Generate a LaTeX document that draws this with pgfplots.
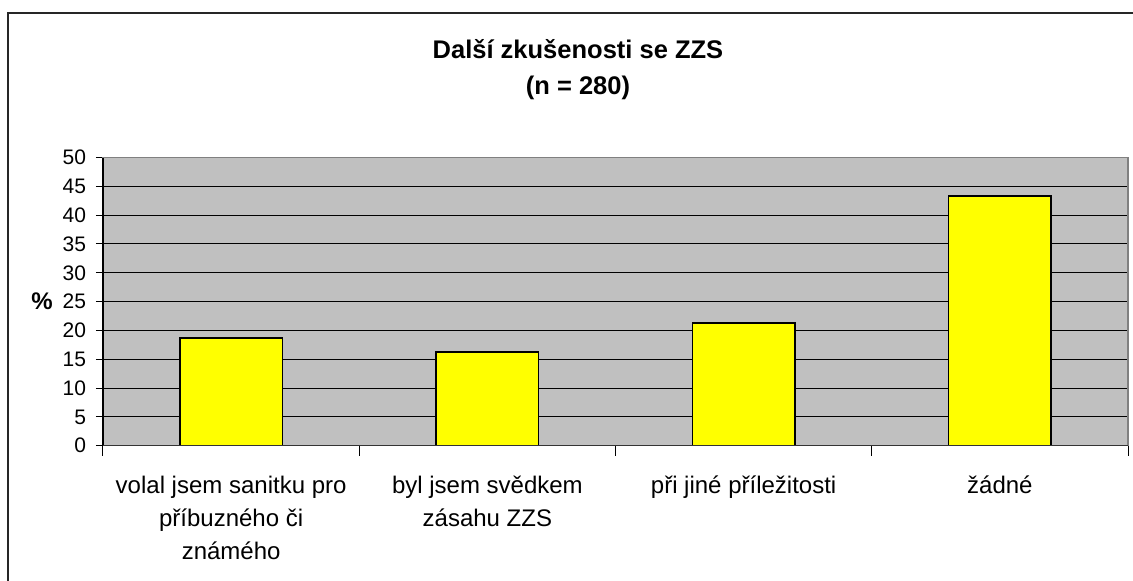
\documentclass[border=0pt]{standalone}
\usepackage{pgfplots}
\pgfplotsset{compat=1.18}
\usepackage{fontspec}
\setmainfont{Liberation Sans}
\definecolor{plotgray}{HTML}{C0C0C0}
\definecolor{baryellow}{HTML}{FFFF00}
\begin{document}
\begin{tikzpicture}
\path[use as bounding box] (0,0) rectangle (566.5pt,-290.5pt);
\draw[line width=0.8pt, color=black!85] (4pt,-300pt) -- (4pt,-6.5pt) -- (580pt,-6.5pt);
\begin{axis}[
  at={(51.5pt,-222.85pt)}, anchor=south west,
  scale only axis, width=512.5pt, height=144.1pt,
  xmin=-0.5, xmax=3.5, ymin=0, ymax=50,
  axis background/.style={fill=plotgray},
  axis line style={draw=black!50, line width=0.6pt},
  ybar, bar width=0.4,
  ytick={0,5,...,50},
  ytick pos=left, xtick pos=bottom,
  ymajorgrids, grid style={black, line width=0.5pt},
  tick align=outside,
  y tick label style={font=\fontsize{10.5}{12}\selectfont, xshift=-1.5pt},
  ytick style={draw=black, line width=0.5pt},
  major tick length=3.5pt,
  /pgf/number format/assume math mode=true,
  xtick={0,1,2,3},
  xticklabels={{volal jsem sanitku pro\\příbuzného či\\známého},{byl jsem svědkem\\zásahu ZZS},{při jiné příležitosti},{žádné}},
  x tick label style={align=center, font=\fontsize{12}{16.5}\selectfont, yshift=-8.2pt},
  major x tick style={draw=none},
  minor xtick={-0.5,0.5,1.5,2.5,3.5},
  minor tick length=5pt,
  minor x tick style={draw=black, line width=0.5pt},
  ylabel={\%},
  ylabel style={rotate=-90, anchor=center, font=\fontsize{12}{14}\selectfont\bfseries, at={(axis description cs:-0.0595,0.5)}},
  title={Další zkušenosti se ZZS\\(n = 280)},
  title style={align=center, anchor=center, font=\fontsize{12.75}{18}\selectfont\bfseries, at={(axis description cs:0.4634,1.262)}},
  clip=false,
]
\addplot[fill=baryellow, draw=black, line width=0.8pt] coordinates {(0,18.7) (1,16.3) (2,21.3) (3,43.3)};
\draw[black, line width=0.6pt] (rel axis cs:0,0) -- (rel axis cs:0,1);
\draw[black!80, line width=0.8pt] (rel axis cs:0,0) -- (rel axis cs:1,0);
\end{axis}
\end{tikzpicture}
\end{document}
